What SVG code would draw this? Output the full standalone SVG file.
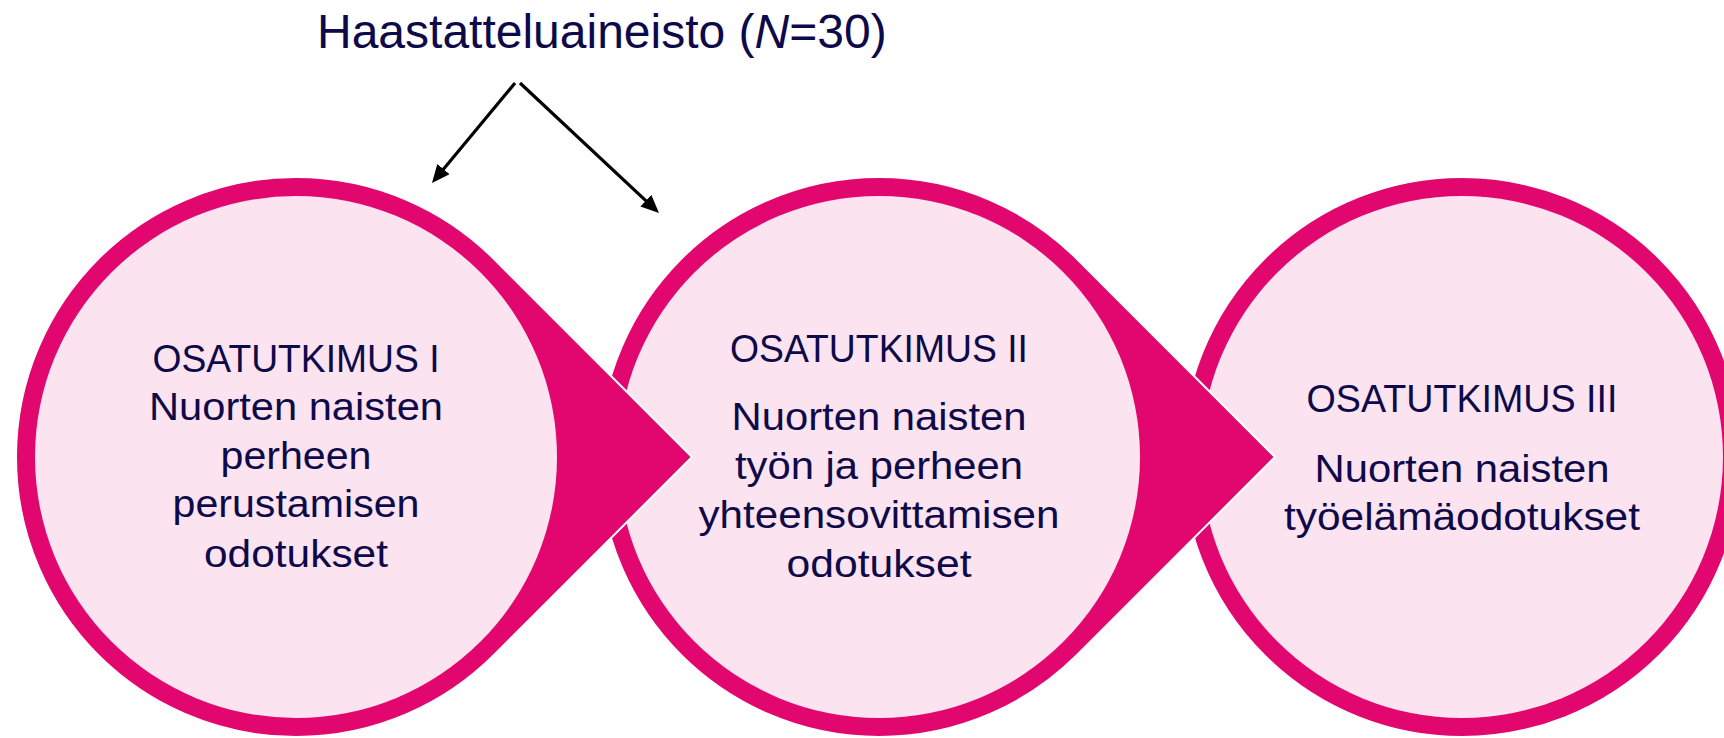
<svg xmlns="http://www.w3.org/2000/svg" width="1724" height="738" viewBox="0 0 1724 738">
  <style>
    .ring { fill: #E2076F; stroke: #FFFFFF; stroke-width: 2; stroke-linejoin: miter; }
    .inner { fill: #FBE3F0; }
    .lbl { font-family: "Liberation Sans", Arial, sans-serif; font-size: 38px; fill: #0E0A4A; text-anchor: middle; }
    .title { font-family: "Liberation Sans", Arial, sans-serif; font-size: 48px; fill: #0E0A4A; }
    .conn { stroke: #000000; stroke-width: 3.2; fill: none; }
  </style>
  <defs>
    <marker id="arrow" markerUnits="userSpaceOnUse" markerWidth="18" markerHeight="16" refX="5" refY="8" orient="auto">
      <path d="M0,0 L18,8 L0,16 z" fill="#000000"/>
    </marker>
  </defs>
  <rect x="0" y="0" width="1724" height="738" fill="#FFFFFF"/>

  <g id="node-3">
    <circle class="ring" cx="1462" cy="457" r="280"/>
    <circle class="inner" cx="1462" cy="457" r="261"/>
    <text class="lbl" x="1462" y="412" textLength="311" lengthAdjust="spacingAndGlyphs">OSATUTKIMUS III</text>
    <text class="lbl" x="1462" y="482" textLength="295" lengthAdjust="spacingAndGlyphs">Nuorten naisten</text>
    <text class="lbl" x="1462" y="530" textLength="356" lengthAdjust="spacingAndGlyphs">työelämäodotukset</text>
  </g>

  <g id="node-2">
    <path class="ring" d="M1077,259 A280,280 0 1 0 1077,655 L1275,457 Z"/>
    <circle class="inner" cx="879" cy="457" r="261"/>
    <text class="lbl" x="879" y="362" textLength="298" lengthAdjust="spacingAndGlyphs">OSATUTKIMUS II</text>
    <text class="lbl" x="879" y="430" textLength="295" lengthAdjust="spacingAndGlyphs">Nuorten naisten</text>
    <text class="lbl" x="879" y="479" textLength="288" lengthAdjust="spacingAndGlyphs">työn ja perheen</text>
    <text class="lbl" x="879" y="527.5" textLength="361" lengthAdjust="spacingAndGlyphs">yhteensovittamisen</text>
    <text class="lbl" x="879" y="576.5" textLength="185" lengthAdjust="spacingAndGlyphs">odotukset</text>
  </g>

  <g id="node-1">
    <path class="ring" d="M494,259 A280,280 0 1 0 494,655 L692,457 Z"/>
    <circle class="inner" cx="296" cy="457" r="261"/>
    <text class="lbl" x="296" y="372" textLength="287" lengthAdjust="spacingAndGlyphs">OSATUTKIMUS I</text>
    <text class="lbl" x="296" y="420" textLength="294" lengthAdjust="spacingAndGlyphs">Nuorten naisten</text>
    <text class="lbl" x="296" y="469" textLength="151" lengthAdjust="spacingAndGlyphs">perheen</text>
    <text class="lbl" x="296" y="517" textLength="247" lengthAdjust="spacingAndGlyphs">perustamisen</text>
    <text class="lbl" x="296" y="567" textLength="184" lengthAdjust="spacingAndGlyphs">odotukset</text>
  </g>

  <g id="title">
    <text class="title" x="317" y="48">Haastatteluaineisto (<tspan font-style="italic">N</tspan>=30)</text>
  </g>

  <g id="connectors">
    <line class="conn" x1="515" y1="83" x2="440.3" y2="173" marker-end="url(#arrow)"/>
    <line class="conn" x1="520" y1="83" x2="649.5" y2="204.1" marker-end="url(#arrow)"/>
  </g>
</svg>
